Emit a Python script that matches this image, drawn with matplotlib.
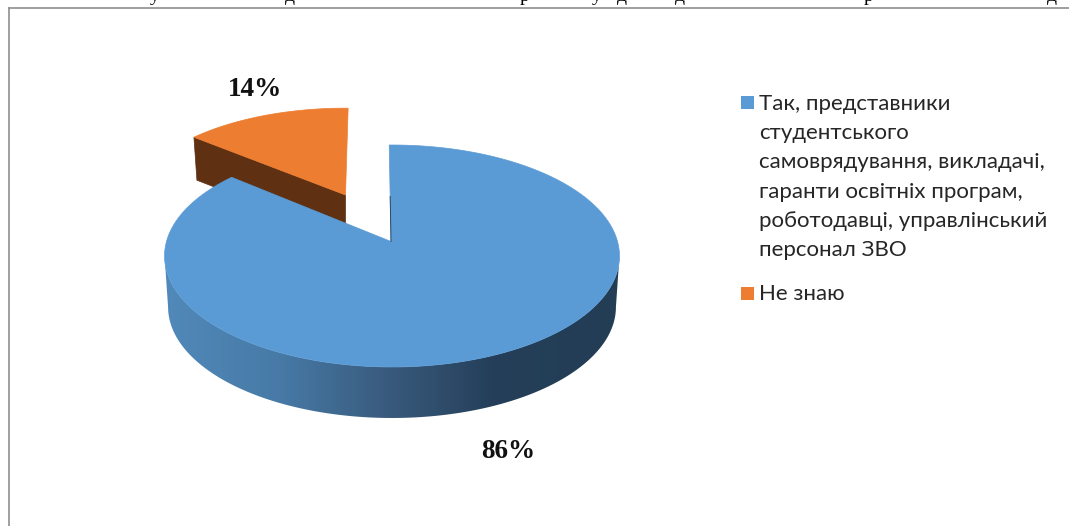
import matplotlib as mpl
mpl.use("Agg")
import matplotlib.pyplot as plt
import numpy as np
from matplotlib.colors import LinearSegmentedColormap
from matplotlib.patches import Polygon, Rectangle

shares = [86, 14]
share_labels = ["86%", "14%"]
legend_labels = [
    "Так, представники\nстудентського\nсамоврядування, викладачі,\nгаранти освітніх програм,\nроботодавці, управлінський\nперсонал ЗВО",
    "Не знаю",
]
clipped_letters = ["у", "д", "р", "у", "д", "д", "р", "д"]
clipped_x = [155, 290, 525, 597, 622, 680, 868, 1052]

BLUE = "#5b9bd5"
ORANGE = "#ed7d31"
BROWN = "#5f3012"
FRAME = "#8f8f8f"

# perspective of the tilted disc, in pixels
PERSP = 0.1306
TOP_A, TOP_B = 109.1, 225.5
CX, CY = 392.0, 241.5
DEPTH_Y, BOTTOM_B = 51.0, 222.0
EXPLODE_X, EXPLODE_Y = -46.5, -46.5
EXPLODE_A, EXPLODE_B = 0.90, 0.945


def project(theta, cx=CX, cy=CY, a=TOP_A, b=TOP_B):
    u, v = np.sin(theta), np.cos(theta)
    return np.column_stack([cx + b * u / (1 + PERSP * v), cy - a * v / (1 + PERSP * v)])


fig = plt.figure(figsize=(10.69, 5.26), dpi=100)
ax = fig.add_axes([0, 0, 1, 1])

blue_end = np.radians(360 * shares[0] / sum(shares))
start = np.radians(-0.8)

# front wall of the big slice, shaded left to right
edge = np.arccos(-PERSP)
front = np.linspace(edge, 2 * np.pi - edge, 200)
wall = np.vstack([
    project(front),
    project(front[::-1], cy=CY + DEPTH_Y, b=BOTTOM_B),
])
wall_patch = Polygon(wall, closed=True, transform=ax.transData, facecolor="none", edgecolor="none")
ax.add_patch(wall_patch)
shade = LinearSegmentedColormap.from_list(
    "wall", [(0.0, "#5189ba"), (0.25, "#477aa6"), (0.5, "#38597b"), (0.72, "#253f5a"), (1.0, "#223d54")]
)
im = ax.imshow(np.linspace(0, 1, 256).reshape(1, -1), cmap=shade, extent=(165, 620, 420, 240), aspect="auto", zorder=1)
im.set_clip_path(wall_patch)

# exploded small slice
orange_arc = np.linspace(blue_end, 2 * np.pi - start, 60)
ox, oy = CX + EXPLODE_X, CY + EXPLODE_Y
orange_rim = project(orange_arc, ox, oy, TOP_A * EXPLODE_A, TOP_B * EXPLODE_B)
corner = orange_rim[0]
ax.add_patch(Polygon(
    [corner, (ox, oy), (ox, oy + 43), (corner[0] + 3, corner[1] + 43)],
    closed=True, facecolor=BROWN, edgecolor=BROWN, lw=0.5, zorder=2,
))
ax.add_patch(Polygon(np.vstack([orange_rim, [ox, oy]]), closed=True, facecolor=ORANGE, edgecolor=ORANGE, lw=0.5, zorder=3))

# top of the big slice
blue_arc = np.linspace(start, blue_end, 300)
ax.add_patch(Polygon(np.vstack([project(blue_arc), [CX - 1, CY]]), closed=True, facecolor=BLUE, edgecolor=BLUE, lw=0.5, zorder=4))
ax.plot([CX - 1.8, CX - 1.0], [CY - 45, CY], color="#2b4a66", lw=0.7, zorder=5)

# frame of the pasted picture and cut off line of text above it
ax.plot([8.5, 8.5], [7.5, 526], color=FRAME, lw=1.2, zorder=6)
ax.plot([8.5, 1069], [7.5, 7.5], color=FRAME, lw=1.2, zorder=6)
for letter, x in zip(clipped_letters, clipped_x):
    ax.text(x, 1.0, letter, family="Liberation Serif", fontsize=14, ha="center", va="baseline", color="black")

serif = dict(family="Liberation Serif", fontweight="bold", fontsize=19.6, color="#111111", ha="center", va="center")
ax.text(508, 451, share_labels[0], **serif)
ax.text(255, 89, share_labels[1], **serif)

legend_font = dict(family=["Lato", "Noto Sans"], fontsize=16, color="#262626", ha="left", va="center")
ax.add_patch(Rectangle((741, 96), 12.5, 12.5, facecolor=BLUE, edgecolor="none"))
for i, line in enumerate(legend_labels[0].split("\n")):
    ax.text(759, 103.5 + 29.4 * i, line, **legend_font)
ax.add_patch(Rectangle((741, 287), 12.5, 12.5, facecolor=ORANGE, edgecolor="none"))
ax.text(759, 293.5, legend_labels[1], **legend_font)

ax.set_xlim(0, 1069)
ax.set_ylim(526, 0)
ax.axis("off")
fig.savefig("out.png", dpi=100)
plt.close(fig)
